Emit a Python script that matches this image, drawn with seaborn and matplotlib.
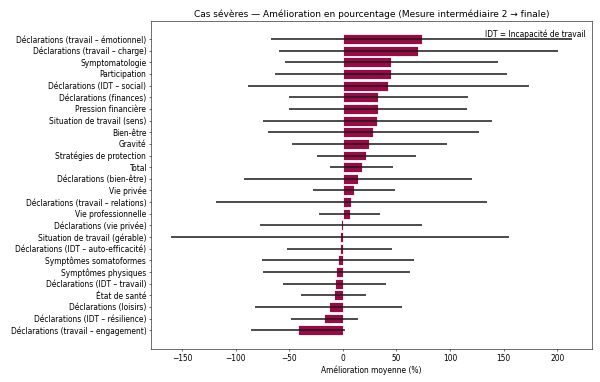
import numpy as np
import pandas as pd
import seaborn as sns
import matplotlib
matplotlib.use("Agg")
import matplotlib.pyplot as plt

# ---- DATA ----
categories = [
    "Déclarations (travail – émotionnel)",
    "Déclarations (travail – charge)",
    "Symptomatologie",
    "Participation",
    "Déclarations (IDT – social)",
    "Déclarations (finances)",
    "Pression financière",
    "Situation de travail (sens)",
    "Bien-être",
    "Gravité",
    "Stratégies de protection",
    "Total",
    "Déclarations (bien-être)",
    "Vie privée",
    "Déclarations (travail – relations)",
    "Vie professionnelle",
    "Déclarations (vie privée)",
    "Situation de travail (gérable)",
    "Déclarations (IDT – auto-efficacité)",
    "Symptômes somatoformes",
    "Symptômes physiques",
    "Déclarations (IDT – travail)",
    "État de santé",
    "Déclarations (loisirs)",
    "Déclarations (IDT – résilience)",
    "Déclarations (travail – engagement)",
]
mean_pct = [73.5, 70.6, 45.1, 44.8, 42.6, 33.0, 32.8, 32.4, 28.3, 24.9, 22.1, 17.7, 14.3,
            10.4, 8.1, 6.3, -1.9, -2.5, -3.0, -4.2, -6.0, -7.6, -8.4, -13.1, -17.3, -41.8]
sd_pct = [140.5, 130.4, 99.3, 108.0, 131.4, 83.4, 83.2, 106.4, 98.4, 72.0, 46.4, 29.5, 106.0,
          38.6, 126.0, 28.5, 75.6, 157.5, 49.4, 70.8, 68.4, 47.8, 30.2, 68.8, 31.3, 43.8]

df = pd.DataFrame({"categorie": categories, "moyenne": mean_pct, "sd": sd_pct})

# ---- PLOT ----
fig, ax = plt.subplots(figsize=(12, 7.64), dpi=50)
fig.subplots_adjust(left=0.252, right=0.987, top=0.945, bottom=0.086)

sns.barplot(data=df, x="moyenne", y="categorie", orient="h", color="#9B0A45",
            saturation=1, width=0.85, edgecolor="white", linewidth=1.2, ax=ax)
ax.errorbar(df["moyenne"], np.arange(len(df)), xerr=df["sd"], fmt="none",
            ecolor="#1a1a1a", elinewidth=2.2, capsize=0, zorder=3)

lo = (df["moyenne"] - df["sd"]).min()
hi = (df["moyenne"] + df["sd"]).max()
pad = (hi - lo) * 0.05
ax.set_xlim(lo - pad, hi + pad)
ax.set_ylim(len(df) - 1 + 1.63, -1.55)

ax.set_title("Cas sévères — Amélioration en pourcentage (Mesure intermédiaire 2 → finale)",
             fontsize=12.9)
ax.set_xlabel("Amélioration moyenne (%)", fontsize=10.8)
ax.set_ylabel("")
ax.tick_params(labelsize=10.8)
ax.text(0.985, 0.975, "IDT = Incapacité de travail", transform=ax.transAxes,
        ha="right", va="top", fontsize=10.8)

fig.savefig("out.png", dpi=50)
